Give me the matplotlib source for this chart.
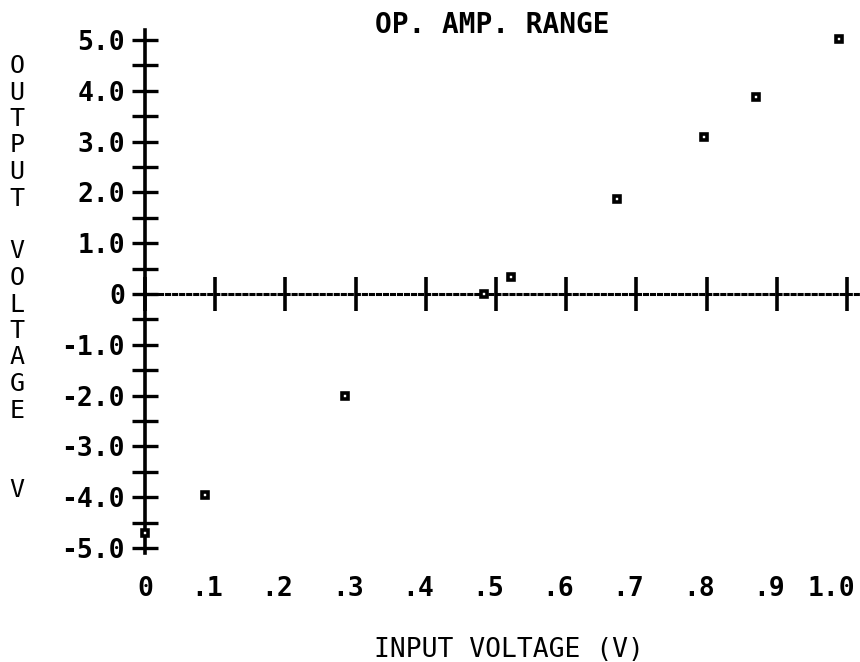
import matplotlib
matplotlib.use("Agg")
import matplotlib.pyplot as plt
import matplotlib.transforms as mtransforms

# measured points (input volts, output volts)
input_v = [0.0, 0.085, 0.285, 0.483, 0.522, 0.672, 0.797, 0.870, 0.988]
output_v = [-4.7, -3.96, -2.0, 0.0, 0.34, 1.86, 3.08, 3.87, 5.01]

x_ticks = [0.0, 0.1, 0.2, 0.3, 0.4, 0.5, 0.6, 0.7, 0.8, 0.9, 1.0]
x_labels = ["0", ".1", ".2", ".3", ".4", ".5", ".6", ".7", ".8", ".9", "1.0"]
y_ticks = [5, 4, 3, 2, 1, 0, -1, -2, -3, -4, -5]
y_labels = ["5.0", "4.0", "3.0", "2.0", "1.0", "0", "-1.0", "-2.0", "-3.0", "-4.0", "-5.0"]
y_minor = [4.5, 3.5, 2.5, 1.5, 0.5, -0.5, -1.5, -2.5, -3.5, -4.5]

title = "OP. AMP. RANGE"
x_title = "INPUT VOLTAGE (V)"
y_title = "OUTPUT VOLTAGE  V"

mono = "DejaVu Sans Mono"
plt.rcParams["font.family"] = mono

W, H = 860, 662
fig = plt.figure(figsize=(W / 100, H / 100), dpi=100)
ax = fig.add_axes([145 / W, 109 / H, 712.5 / W, 523.2 / H])
ax.set_xlim(0, 1.015)
ax.set_ylim(-5.1, 5.2)

for s in ["top", "right"]:
    ax.spines[s].set_visible(False)
ax.spines["left"].set_position(("data", 0))
ax.spines["left"].set_linewidth(2.6)
ax.spines["bottom"].set_position(("data", 0))
ax.spines["bottom"].set_linestyle((0, (1, 1.3)))
ax.spines["bottom"].set_linewidth(2.2)

ax.set_yticks(y_ticks)
ax.set_yticklabels(y_labels, fontweight="bold")
ax.set_yticks(y_minor, minor=True)
ax.tick_params(axis="y", which="both", direction="inout", length=19, width=2.4,
               labelsize=19, pad=5)

ax.set_xticks(x_ticks)
ax.tick_params(axis="x", which="major", direction="inout", length=24, width=2.6,
               labelbottom=False)

# x tick labels sit well below the zero line
lab_tr = mtransforms.offset_copy(ax.get_xaxis_transform(), fig=fig, x=8, y=0, units="dots")
for xv, lab in zip(x_ticks, x_labels):
    ax.text(xv, -0.069, lab, transform=lab_tr, ha="right", va="center",
            fontsize=19, fontweight="bold", clip_on=False)

ax.plot(input_v, output_v, linestyle="none", marker="s", markersize=5,
        markerfacecolor="white", markeredgecolor="black", markeredgewidth=2.6,
        clip_on=False, zorder=5)

fig.text(492 / W, 1 - 25 / H, title, ha="center", va="center", fontsize=20,
         fontweight="bold")
fig.text(509 / W, 1 - 650 / H, x_title, ha="center", va="center", fontsize=19)

# stacked vertical axis title
pitch = 26.5
for i, ch in enumerate(y_title):
    if ch != " ":
        fig.text(17 / W, 1 - (66 + i * pitch) / H, ch, ha="center", va="center",
                 fontsize=18)

fig.savefig("out.png", dpi=100, facecolor="white")
